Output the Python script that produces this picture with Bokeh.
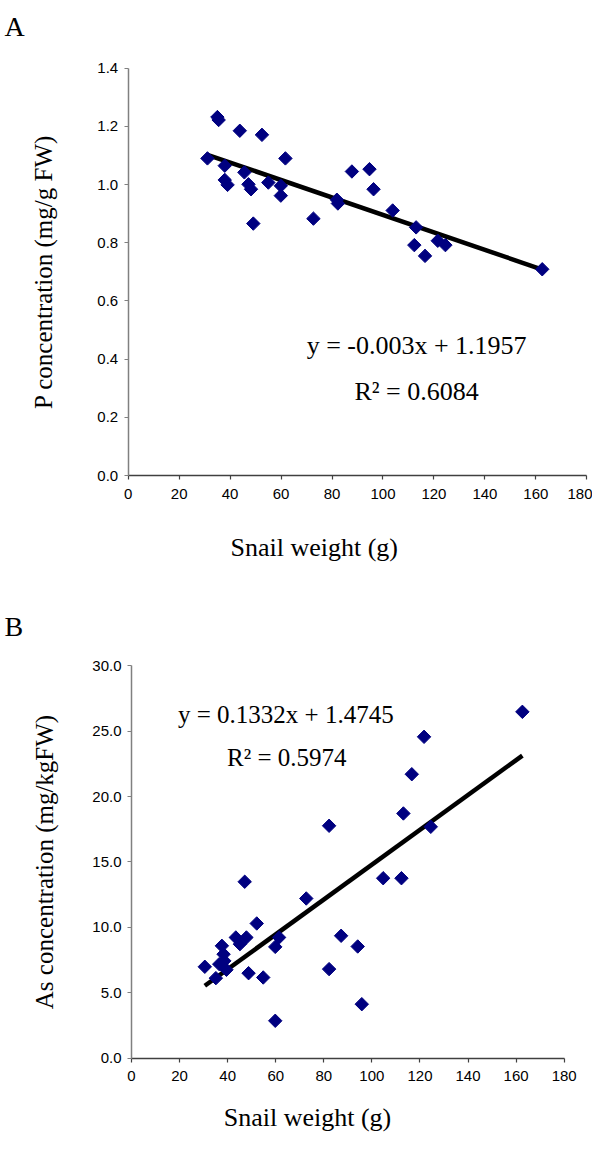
import numpy as np
from bokeh.plotting import figure
from bokeh.models import Label, NumeralTickFormatter, FixedTicker, ColumnDataSource, LinearAxis, Range1d
from bokeh.layouts import column
from bokeh.embed import file_html
from bokeh.resources import INLINE

# ---------------- data ----------------
# Panel A: P concentration vs snail weight
a_weight = [31.1, 35.0, 35.5, 43.8, 52.5, 61.7, 37.9, 37.9, 39.0, 45.6, 47.2, 48.2, 55.0, 59.9, 59.9,
            49.1, 72.7, 81.9, 82.3, 87.8, 94.7, 96.3, 103.8, 113.0, 112.3, 116.5, 121.5, 124.5, 162.5]
a_p = [1.090, 1.232, 1.222, 1.185, 1.171, 1.090, 1.065, 1.016, 0.999, 1.042, 1.001, 0.984, 1.007, 0.996, 0.962,
       0.866, 0.883, 0.948, 0.935, 1.045, 1.053, 0.984, 0.911, 0.853, 0.792, 0.755, 0.807, 0.792, 0.709]
a_slope, a_intercept = -0.003, 1.1957
a_eq = "y = -0.003x + 1.1957"
a_r2 = "R\u00b2 = 0.6084"
a_ylabel = "P concentration (mg/g FW)"

# Panel B: As concentration vs snail weight
b_weight = [162.6, 121.7, 116.6, 113.1, 82.2, 124.5, 47.1, 104.7, 112.3, 72.7, 52.1, 87.2, 94.1, 61.4, 59.8,
            43.4, 47.8, 45.1, 37.6, 38.3, 38.6, 36.5, 30.5, 39.5, 35.1, 48.7, 54.8, 82.2, 95.8, 59.8]
b_as = [26.48, 24.57, 21.71, 18.71, 17.77, 17.69, 13.49, 13.76, 13.76, 12.21, 10.30, 9.36, 8.54, 9.23, 8.51,
        9.23, 9.23, 8.72, 8.59, 7.95, 7.44, 7.19, 6.99, 6.76, 6.12, 6.50, 6.17, 6.81, 4.13, 2.86]
b_slope, b_intercept = 0.1332, 1.4745
b_eq = "y = 0.1332x + 1.4745"
b_r2 = "R\u00b2 = 0.5974"
b_ylabel = "As concentration (mg/kgFW)"

x_label = "Snail weight (g)"
x_ticks = [0, 20, 40, 60, 80, 100, 120, 140, 160, 180]
a_y_ticks = [0.0, 0.2, 0.4, 0.6, 0.8, 1.0, 1.2, 1.4]
b_y_ticks = [0, 5, 10, 15, 20, 25, 30]

SERIF = "Liberation Serif"
SANS = "Liberation Sans"
NAVY = "#000080"


def make_panel(width, height, xr, yr, xbounds, ybounds, yticks):
    p = figure(width=width, height=height, x_range=Range1d(*xr), y_range=Range1d(*yr),
               output_backend="svg", toolbar_location=None,
               x_axis_location=None, y_axis_location=None,
               min_border_left=0, min_border_right=0, min_border_top=0, min_border_bottom=0)
    p.outline_line_color = None
    p.grid.grid_line_color = None
    p.background_fill_color = "white"
    p.border_fill_color = "white"
    xa = LinearAxis(fixed_location=ybounds[0], bounds=xbounds, ticker=FixedTicker(ticks=x_ticks))
    ya = LinearAxis(fixed_location=xbounds[0], bounds=ybounds, ticker=FixedTicker(ticks=yticks),
                    formatter=NumeralTickFormatter(format="0.0"))
    for ax in (xa, ya):
        ax.minor_tick_line_color = None
        ax.major_tick_in = 0
        ax.major_tick_out = 4
        ax.major_label_text_font = SANS
        ax.major_label_text_font_size = "15px"
        ax.major_label_text_color = "black"
        ax.axis_line_width = 1.5
        ax.major_tick_line_width = 1.2
    ya.axis_line_color = "#808080"
    ya.major_tick_line_color = "#808080"
    xa.axis_line_color = "#404040"
    xa.major_tick_line_color = "#404040"
    ya.major_label_standoff = 6
    xa.major_label_standoff = 9
    p.add_layout(ya, "left")
    p.add_layout(xa, "below")
    return p


def add_text(p, x, y, text, size, align="center", baseline="middle", angle=0.0):
    p.add_layout(Label(x=x, y=y, text=text, text_font=SERIF, text_font_size=size, angle=angle,
                       text_align=align, text_baseline=baseline, text_color="black"))


# ---------------- Panel A ----------------
pa = make_panel(592, 592, (-50.12, 182.23), (-0.4017, 1.6326), (0, 180), (0, 1.4), a_y_ticks)
src_a = ColumnDataSource(dict(x=a_weight, y=a_p))
xa_fit = np.array([min(a_weight), max(a_weight)])
pa.line(xa_fit, a_slope * xa_fit + a_intercept, line_color="black", line_width=4.5)
pa.scatter("x", "y", source=src_a, marker="square", angle=np.pi / 4, size=9.5,
           fill_color=NAVY, line_color=NAVY)
add_text(pa, 113.2, 0.447, a_eq, "26px")
add_text(pa, 113.2, 0.290, a_r2, "26px")
add_text(pa, 73.0, -0.247, x_label, "26px")
add_text(pa, -33.2, 0.700, a_ylabel, "25px", angle=np.pi / 2)
add_text(pa, -48.55, 1.543, "A", "28px", align="left", baseline="alphabetic")

# ---------------- Panel B ----------------
pb = make_panel(592, 543, (-54.49, 191.77), (-5.910, 35.604), (0, 180), (0, 30), b_y_ticks)
src_b = ColumnDataSource(dict(x=b_weight, y=b_as))
xb_fit = np.array([min(b_weight), max(b_weight)])
pb.line(xb_fit, b_slope * xb_fit + b_intercept, line_color="black", line_width=4.5)
pb.scatter("x", "y", source=src_b, marker="square", angle=np.pi / 4, size=9.5,
           fill_color=NAVY, line_color=NAVY)
add_text(pb, 64.2, 26.30, b_eq, "25px")
add_text(pb, 64.6, 23.0, b_r2, "25px")
add_text(pb, 73.2, -4.53, x_label, "26px")
add_text(pb, -36.2, 15.0, b_ylabel, "25px", angle=np.pi / 2)
add_text(pb, -52.83, 33.0, "B", "28px", align="left", baseline="alphabetic")

layout = column(pa, pb, spacing=0)
open("out.html", "w").write(file_html(layout, INLINE))
